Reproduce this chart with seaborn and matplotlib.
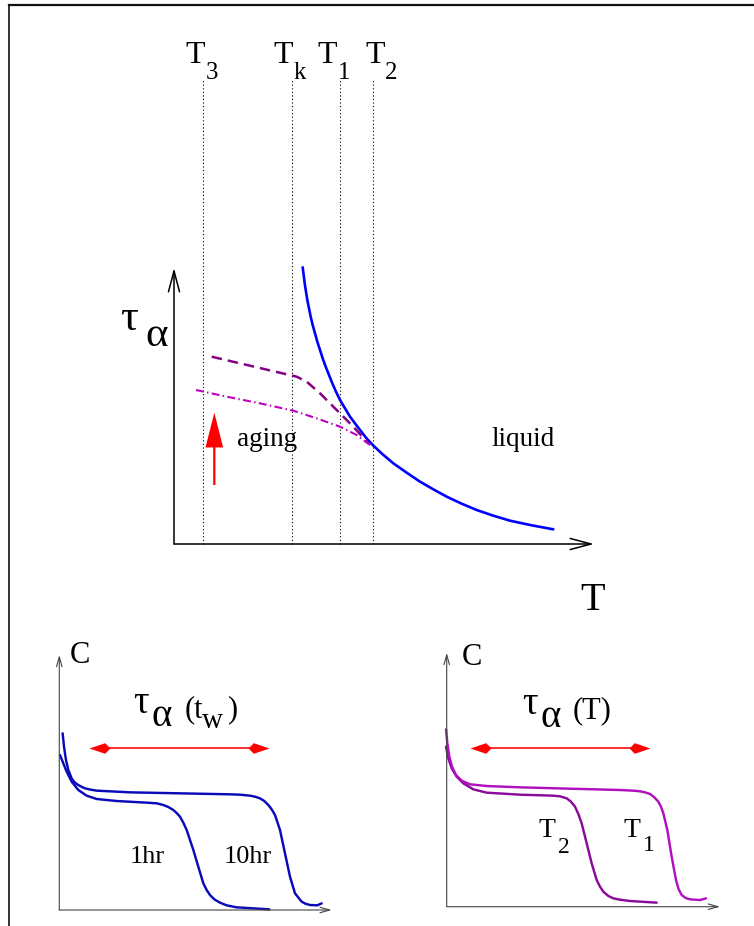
import matplotlib
matplotlib.use("Agg")
import matplotlib.pyplot as plt
from matplotlib.path import Path
import seaborn as sns

sns.set_theme(style="white")
plt.rcParams["font.family"] = ["Liberation Serif", "DejaVu Serif"]
plt.rcParams["text.color"] = "black"

# ---------------- top panel: tau_alpha versus temperature ----------------
temp_names = ["T", "T", "T", "T"]
temp_subs = ["3", "k", "1", "2"]
temp_lines = [0.733, 2.95, 4.15, 4.967]
temp_name_x = [0.275, 2.475, 3.575, 4.775]
temp_sub_x = [0.8, 3.0, 4.09, 5.27]

liquid_T = [3.217, 3.242, 3.267, 3.3, 3.333, 3.375, 3.417, 3.467, 3.525, 3.583,
            3.65, 3.717, 3.792, 3.875, 3.958, 4.05, 4.15, 4.275, 4.4, 4.525,
            4.65, 4.8, 4.967, 5.217, 5.483, 5.817, 6.15, 6.483, 6.817, 7.192,
            7.567, 7.983, 8.4, 8.942, 9.483]
liquid_tau = [6.917, 6.725, 6.517, 6.308, 6.1, 5.892, 5.683, 5.475, 5.267, 5.058,
              4.85, 4.642, 4.433, 4.225, 4.017, 3.808, 3.6, 3.392, 3.183, 3.017,
              2.85, 2.658, 2.475, 2.242, 2.017, 1.783, 1.558, 1.367, 1.183, 1.008,
              0.85, 0.708, 0.583, 0.467, 0.367]

aged_long_T = [0.942, 3.067, 3.317, 3.65, 3.983, 4.192, 4.483, 4.858]
aged_long_tau = [4.683, 4.183, 4.058, 3.767, 3.433, 3.225, 2.933, 2.517]

aged_short_T = [0.55, 1.317, 2.15, 2.983, 3.567, 4.15, 4.567, 4.9]
aged_short_tau = [3.85, 3.683, 3.517, 3.333, 3.142, 2.933, 2.725, 2.475]

# ---------------- bottom left: C(t) for two waiting times ----------------
tw1_t = [0.023, 0.134, 0.246, 0.412, 0.634, 0.912, 1.246, 1.912, 2.912, 3.246,
         3.468, 3.634, 3.801, 3.912, 4.023, 4.134, 4.246, 4.468, 4.634, 4.801,
         4.912, 5.023, 5.168, 5.357, 5.579, 5.912, 7.001]
tw1_C = [5.167, 4.889, 4.611, 4.278, 4.0, 3.811, 3.7, 3.633, 3.578, 3.556,
         3.5, 3.433, 3.333, 3.233, 3.111, 2.911, 2.667, 2.0, 1.444, 0.889,
         0.667, 0.5, 0.356, 0.244, 0.156, 0.089, 0.022]
tw10_t = [0.112, 0.157, 0.223, 0.301, 0.412, 0.49, 0.579, 0.712, 0.857, 1.046,
          1.246, 2.357, 4.023, 5.69, 6.023, 6.357, 6.523, 6.69, 6.834, 6.968,
          7.079, 7.19, 7.357, 7.523, 7.69, 7.857, 7.99, 8.079, 8.201, 8.357,
          8.601, 8.746]
tw10_C = [5.889, 5.444, 5.0, 4.667, 4.389, 4.278, 4.2, 4.122, 4.056, 4.011,
          3.978, 3.922, 3.889, 3.856, 3.844, 3.811, 3.778, 3.722, 3.633, 3.5,
          3.356, 3.167, 2.667, 1.889, 1.111, 0.556, 0.389, 0.278, 0.211, 0.167,
          0.156, 0.222]

# ---------------- bottom right: C(t) at two temperatures ----------------
T1_t = [-0.023, 0.021, 0.088, 0.177, 0.31, 0.499, 0.777, 1.332, 2.443, 4.11,
        5.777, 6.221, 6.443, 6.61, 6.777, 6.921, 7.054, 7.143, 7.221, 7.354,
        7.499, 7.643, 7.732, 7.832, 7.966, 8.11, 8.443, 8.643]
T1_C = [5.912, 5.446, 5.001, 4.668, 4.39, 4.201, 4.079, 4.023, 3.979, 3.934,
        3.89, 3.868, 3.846, 3.812, 3.757, 3.646, 3.501, 3.334, 3.112, 2.557,
        1.668, 0.89, 0.579, 0.39, 0.29, 0.246, 0.223, 0.279]
T2_t = [-0.023, 0.054, 0.166, 0.332, 0.554, 0.888, 1.332, 2.443, 3.554, 3.777,
        3.999, 4.143, 4.277, 4.388, 4.499, 4.666, 4.832, 4.999, 5.11, 5.221,
        5.388, 5.554, 5.777, 6.11, 6.999]
T2_C = [5.334, 4.946, 4.612, 4.334, 4.112, 3.912, 3.801, 3.734, 3.701, 3.679,
        3.612, 3.501, 3.334, 3.09, 2.779, 2.112, 1.446, 0.89, 0.668, 0.501,
        0.357, 0.279, 0.234, 0.19, 0.135]

W, H = 754, 926
fig = plt.figure(figsize=(W / 100, H / 100), dpi=100)


def px_axes(x0, y0, x1, y1):
    """Axes placed by pixel box (top-left origin)."""
    return fig.add_axes([x0 / W, 1 - y1 / H, (x1 - x0) / W, (y1 - y0) / H])


# frame around the drawing
bg = px_axes(9, 5, W, H)
bg.set_xticks([])
bg.set_yticks([])
for side in ["right", "bottom"]:
    bg.spines[side].set_visible(False)
bg.spines["left"].set_color("#333333")
bg.spines["left"].set_linewidth(1.4)
bg.spines["top"].set_color("#111111")
bg.spines["top"].set_linewidth(1.6)
bg.patch.set_alpha(0)


def axis_arrows(ax, xend, yend, lw, color, hl, hw):
    style = f"->,head_length={hl},head_width={hw}"
    for tip in [(xend, 0), (0, yend)]:
        ax.annotate("", xy=tip, xytext=(0, 0),
                    arrowprops=dict(arrowstyle=style, lw=lw, color=color,
                                    mutation_scale=10, shrinkA=0, shrinkB=0))


def line(ax, x, y, **kw):
    sns.lineplot(x=x, y=y, sort=False, estimator=None, ax=ax, legend=False, **kw)


def txt(ax, x, y, s, size):
    ax.text(x, y, s, fontsize=size, ha="left", va="baseline", color="black")


# ---------------- top panel ----------------
ax = px_axes(100, 30, 620, 620)
ax.set_xlim(-1.85, 11.15)
ax.set_ylim(-1.9, 12.85)
ax.set_axis_off()

for xv in temp_lines:
    ax.plot([xv, xv], [0, 11.6], color="black", lw=0.8, linestyle=(0, (1, 2.2)))
for xn, xs, name, sub in zip(temp_name_x, temp_sub_x, temp_names, temp_subs):
    txt(ax, xn, 12.02, name, 23)
    txt(ax, xs, 11.62, sub, 18)

axis_arrows(ax, 10.5, 6.9, 1.1, "black", 1.5, 0.4)

line(ax, liquid_T, liquid_tau, color="#0000ff", linewidth=1.9)
line(ax, aged_long_T, aged_long_tau, color="#860086", linewidth=1.8,
     linestyle=(0, (4.2, 2.4)))
line(ax, aged_short_T, aged_short_tau, color="#c000c0", linewidth=1.5,
     linestyle=(0, (3.8, 1.6, 0.7, 1.6)))

ax.arrow(1.008, 1.475, 0, 1.808, width=0.055, head_width=0.44, head_length=0.87,
         length_includes_head=True, color="#ff0000", lw=0)

txt(ax, 1.575, 2.45, "aging", 19.5)
txt(ax, 7.95, 2.45, "liquid", 19.5)
txt(ax, 10.15, -1.65, "T", 29)
txt(ax, -1.35, 5.35, "\u03c4", 32)
txt(ax, -0.72, 4.95, "\u03b1", 31)

# double-headed red arrow heads (kite shaped)
head_left = Path([(0, 0), (15.7, 5.3), (21, 0), (15.7, -5.3), (0, 0)],
                 [Path.MOVETO, Path.LINETO, Path.LINETO, Path.LINETO, Path.CLOSEPOLY])
head_right = Path([(0, 0), (-15.7, 5.3), (-21, 0), (-15.7, -5.3), (0, 0)],
                  [Path.MOVETO, Path.LINETO, Path.LINETO, Path.LINETO, Path.CLOSEPOLY])


def span_arrow(ax, x0, x1, y):
    ax.plot([x0 + 0.3, x1 - 0.3], [y, y], color="#ff2020", lw=1.3)
    ax.plot([x0], [y], marker=head_left, ms=30.2, mew=0, color="#ff0000", ls="none")
    ax.plot([x1], [y], marker=head_right, ms=30.2, mew=0, color="#ff0000", ls="none")


# ---------------- bottom left panel ----------------
axl = px_axes(40, 630, 340, 920)
axl.set_xlim(-0.643, 9.357)
axl.set_ylim(-0.333, 9.333)
axl.set_axis_off()
axis_arrows(axl, 9.08, 8.5, 0.8, "#444444", 0.7, 0.2)
line(axl, tw1_t, tw1_C, color="#0a0ab8", linewidth=1.75)
line(axl, tw10_t, tw10_C, color="#0a0ab8", linewidth=1.75)
span_arrow(axl, 1.0, 7.0, 5.39)
txt(axl, 0.357, 8.222, "C", 22)
txt(axl, 2.47, 6.556, "\u03c4", 28)
txt(axl, 3.08, 6.13, "\u03b1", 28)
txt(axl, 4.19, 6.42, "(t", 22)
txt(axl, 4.74, 6.07, "w", 21)
txt(axl, 5.58, 6.42, ")", 22)
txt(axl, 2.357, 1.578, "1hr", 19)
txt(axl, 5.468, 1.578, "10hr", 19)

# ---------------- bottom right panel ----------------
axr = px_axes(430, 630, 730, 920)
axr.set_xlim(-0.557, 9.443)
axr.set_ylim(-0.443, 9.223)
axr.set_axis_off()
axis_arrows(axr, 9.11, 8.46, 0.8, "#444444", 0.7, 0.2)
line(axr, T2_t, T2_C, color="#8a0a9a", linewidth=1.75)
line(axr, T1_t, T1_C, color="#b010c0", linewidth=1.75)
span_arrow(axr, 0.78, 6.78, 5.3)
txt(axr, 0.5, 8.06, "C", 22)
txt(axr, 2.5, 6.42, "\u03c4", 28)
txt(axr, 3.14, 6.0, "\u03b1", 28)
txt(axr, 4.21, 6.29, "(T)", 22)
txt(axr, 3.054, 2.334, "T", 20)
txt(axr, 3.71, 1.8, "2", 17)
txt(axr, 5.888, 2.334, "T", 20)
txt(axr, 6.54, 1.86, "1", 17)

fig.savefig("out.png", dpi=100)
